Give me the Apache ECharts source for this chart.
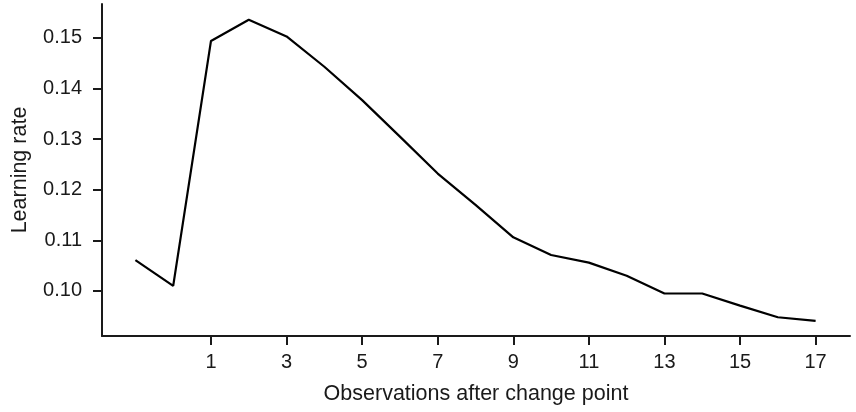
<!DOCTYPE html>
<html>
<head>
<meta charset="utf-8">
<script src="https://cdn.jsdelivr.net/npm/echarts@6/dist/echarts.min.js"></script>
<style>
  html, body { margin: 0; padding: 0; background: #fff; }
  #chart { width: 856px; height: 412px; }
</style>
</head>
<body>
<div id="chart"></div>
<script>
// Observations relative to the change point (0 = the change itself)
const observations = [-1, 0, 1, 2, 3, 4, 5, 6, 7, 8, 9, 10, 11, 12, 13, 14, 15, 16, 17];
// Mean learning rate at each observation
const learningRate = [0.1061, 0.1010, 0.1494, 0.1536, 0.1503, 0.1443, 0.1377, 0.1305, 0.1232, 0.1170,
                      0.1106, 0.1071, 0.1056, 0.1030, 0.0995, 0.0995, 0.0971, 0.0948, 0.0941];
// Labelled ticks
const xTicks = [1, 3, 5, 7, 9, 11, 13, 15, 17];
const yTicks = [0.10, 0.11, 0.12, 0.13, 0.14, 0.15];

const FONT = '"Liberation Sans", Arial, Helvetica, sans-serif';
const INK = '#1a1a1a';

const chart = echarts.init(document.getElementById('chart'), null, { renderer: 'canvas' });

chart.setOption({
  animation: false,
  backgroundColor: '#ffffff',
  grid: { left: 102, right: 6, top: 4, bottom: 76, containLabel: false, outerBoundsMode: 'none' },
  xAxis: {
    type: 'value',
    min: -1.884,
    max: 17.91,
    name: 'Observations after change point',
    nameLocation: 'middle',
    nameGap: 47,
    nameTextStyle: { fontFamily: FONT, fontSize: 21.5, color: INK },
    axisLine: { show: true, onZero: false, lineStyle: { color: INK, width: 2 } },
    axisTick: { show: true, inside: false, length: 9, lineStyle: { color: INK, width: 2 }, customValues: xTicks },
    axisLabel: { fontFamily: FONT, fontSize: 20, color: INK, margin: 16, customValues: xTicks },
    splitLine: { show: false }
  },
  yAxis: {
    type: 'value',
    min: 0.0911,
    max: 0.1567,
    name: 'Learning rate',
    nameLocation: 'middle',
    nameGap: 71,
    nameRotate: 90,
    nameTextStyle: { fontFamily: FONT, fontSize: 21.5, color: INK },
    axisLine: { show: true, onZero: false, lineStyle: { color: INK, width: 2 } },
    axisTick: { show: true, inside: false, length: 9, lineStyle: { color: INK, width: 2 }, customValues: yTicks },
    axisLabel: {
      fontFamily: FONT, fontSize: 20, color: INK, margin: 20,
      customValues: yTicks,
      formatter: v => v.toFixed(2)
    },
    splitLine: { show: false }
  },
  series: [{
    type: 'line',
    data: observations.map((x, i) => [x, learningRate[i]]),
    showSymbol: false,
    lineStyle: { color: '#000000', width: 2.2 },
    itemStyle: { color: '#000000' }
  }]
});
</script>
</body>
</html>
